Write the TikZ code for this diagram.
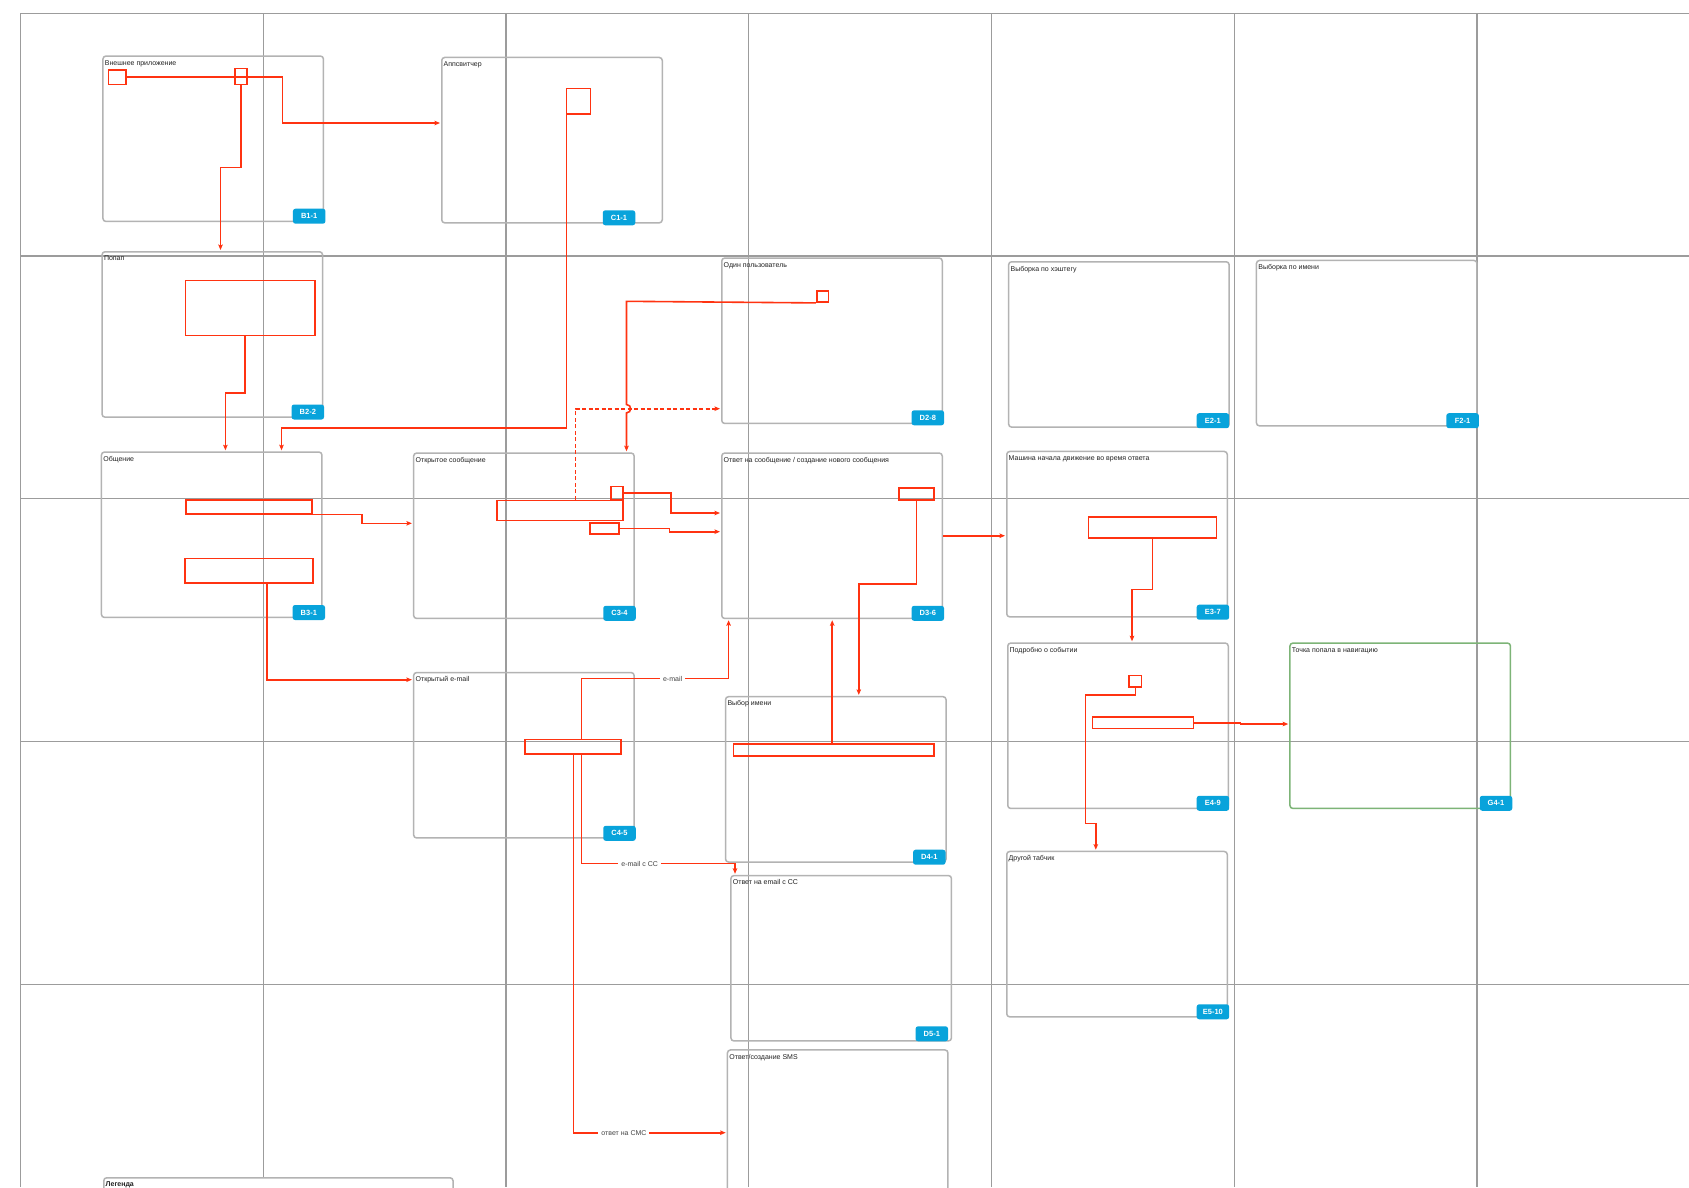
\documentclass[tikz,border=0pt]{standalone}
\usepackage{fontspec}
\setmainfont{Liberation Sans}
\usetikzlibrary{arrows.meta}
\definecolor{gridc}{HTML}{9C9C9C}
\definecolor{boxc}{HTML}{B3B3B3}
\definecolor{redc}{HTML}{FF3311}
\definecolor{badgec}{HTML}{08A3DB}
\definecolor{greenc}{HTML}{7DB477}
\definecolor{lblc}{HTML}{444444}
\definecolor{titc}{HTML}{222222}
\begin{document}
\begin{tikzpicture}[x=1pt,y=-1pt,
  gridline/.style={draw=gridc, line width=1.2pt},
  screen/.style={draw=boxc, line width=1.5pt, rounded corners=3pt, anchor=north west, inner sep=0pt, minimum width=220.5pt, minimum height=165.4pt},
  greenscreen/.style={screen, draw=greenc},
  title/.style={anchor=base west, inner sep=0pt, text=titc, font=\fontsize{7}{8}\selectfont},
  badge/.style={fill=badgec, rounded corners=2.5pt, minimum width=32.5pt, minimum height=15pt, inner sep=0pt, text=white, font=\bfseries\fontsize{7.5}{8}\selectfont},
  rr/.style 2 args={draw=redc, line width=1.6pt, anchor=north west, inner sep=0pt, minimum width=#1pt, minimum height=#2pt},
  conn/.style={draw=redc, line width=1.6pt, -{Stealth[length=5.5pt,width=4.5pt,inset=1pt]}, shorten >=1pt},
  lbl/.style={fill=white, inner xsep=3pt, inner ysep=1pt, text=lblc, font=\fontsize{7}{8}\selectfont}
]
\useasboundingbox (0,0) rectangle (1689,1187);
\clip (0,0) rectangle (1689,1187);
\fill[white] (0,0) rectangle (1689,1187);

% grid
\foreach \gx in {20.5,263.25,506,748.75,991.5,1234.25,1477}
  \draw[gridline] (\gx,13.3) -- (\gx,1187);
\foreach \gy in {13.3,256.05,498.8,741.55,984.3}
  \draw[gridline] (20.5,\gy) -- (1689,\gy);

% screens
\node[screen] (B11) at (102.2,55.3) {};
\node[title] (tB11) at ([shift={(2.5,10)}]B11.north west) {Внешнее приложение};
\node[screen] (C11) at (441,56.7) {};
\node[title] (tC11) at ([shift={(2.5,10)}]C11.north west) {Аппсвитчер};
\node[screen] (B22) at (101.3,251) {};
\node[title] (tB22) at ([shift={(2.5,9.5)}]B22.north west) {Попап};
\node[screen] (D28) at (721,257.3) {};
\node[title] (tD28) at ([shift={(2.5,10)}]D28.north west) {Один пользователь};
\node[screen] (E21) at (1007.9,261) {};
\node[title] (tE21) at ([shift={(2.5,10)}]E21.north west) {Выборка по хэштегу};
\node[screen] (F21) at (1255.7,259.7) {};
\node[title] (tF21) at ([shift={(2.5,10)}]F21.north west) {Выборка по имени};
\node[screen] (B31) at (100.7,451.3) {};
\node[title] (tB31) at ([shift={(2.5,10)}]B31.north west) {Общение};
\node[screen] (C34) at (412.9,452.3) {};
\node[title] (tC34) at ([shift={(2.5,10)}]C34.north west) {Открытое сообщение};
\node[screen] (D36) at (721,452.3) {};
\node[title] (tD36) at ([shift={(2.5,10)}]D36.north west) {Ответ на сообщение / создание нового сообщения};
\node[screen] (E37) at (1006,450.7) {};
\node[title] (tE37) at ([shift={(2.5,10)}]E37.north west) {Машина начала движение во время ответа};
\node[screen] (C45) at (412.9,671.8) {};
\node[title] (tC45) at ([shift={(2.5,10)}]C45.north west) {Открытый e-mail};
\node[screen] (D41) at (724.8,695.9) {};
\node[title] (tD41) at ([shift={(2.5,10)}]D41.north west) {Выбор имени};
\node[screen] (E49) at (1007,642.3) {};
\node[title] (tE49) at ([shift={(2.5,10)}]E49.north west) {Подробно о событии};
\node[greenscreen] (G41) at (1289.2,642.3) {};
\node[title] (tG41) at ([shift={(2.5,10)}]G41.north west) {Точка попала в навигацию};
\node[screen] (E510) at (1006,850.7) {};
\node[title] (tE510) at ([shift={(2.5,10)}]E510.north west) {Другой табчик};
\node[screen] (D51) at (730.2,874.8) {};
\node[title] (tD51) at ([shift={(2.5,10)}]D51.north west) {Ответ на email с CC};
\node[screen] (SMS) at (726.7,1049.2) {};
\node[title] (tSMS) at ([shift={(2.5,10)}]SMS.north west) {Ответ/создание SMS};
\node[screen, fill=white, minimum width=349.3pt] (LEG) at (103,1177) {};
\node[title, font=\bfseries\fontsize{7}{8}\selectfont] (tLEG) at ([shift={(2.5,9)}]LEG.north west) {Легенда};

% red elements
\node[rr={17.4}{14.7}] (r1) at (107.6,69) {};
\node[rr={12.1}{16}] (r2) at (233.9,67.7) {};
\node[rr={24.1}{25.6}] (r3) at (565.6,87.7) {};
\node[rr={129.5}{55}] (r4) at (184.8,279.7) {};
\node[rr={11.9}{11.3}] (r5) at (815.9,290) {};
\node[rr={125.9}{20}] (r6) at (496,499.7) {};
\node[rr={11.9}{13}] (r7) at (610,485.7) {};
\node[rr={29.4}{11}] (r8) at (589,522.3) {};
\node[rr={34.8}{12}] (r9) at (898.2,487) {};
\node[rr={126}{14}] (r10) at (185,499) {};
\node[rr={128}{24.3}] (r11) at (184.3,557.7) {};
\node[rr={96.1}{14.3}] (r12) at (523.9,738.7) {};
\node[rr={200.2}{12.1}] (r13) at (732.8,743.2) {};
\node[rr={127.9}{21}] (r14) at (1087.8,516.3) {};
\node[rr={12.5}{11.6}] (r15) at (1128.3,674.7) {};
\node[rr={100.9}{11.4}] (r16) at (1091.6,716.3) {};

% connectors
\coordinate (w1) at (282.6,123);
\draw[conn] (r1.east) -| (w1) -- (w1 -| C11.west);
\coordinate (w2) at (220.5,167.3);
\draw[conn] (r2.south) |- (w2) -- (w2 |- B22.north);
\coordinate (w3a) at (566.5,427.7);
\coordinate (w3b) at (281.5,427.7);
\draw[conn] (w3a |- r3.south) -- (w3a) -- (w3b) -- (w3b |- B31.north);
\coordinate (w4a) at (245,393);
\coordinate (w4b) at (225.4,393);
\draw[conn] (w4a |- r4.south) -- (w4a) -- (w4b) -- (w4b |- B31.north);
\coordinate (w5) at (626.5,301.3);
\draw[conn] (r5.south west) -- (w5) -- (626.5,404.5) .. controls (632,404.5) and (632,412.9) .. (626.5,412.9) -- (w5 |- C34.north);
\coordinate (w6) at (575.6,408.7);
\draw[conn, dash pattern=on 4pt off 2.5pt] (w6 |- r6.north) -- (w6) -- (w6 -| D28.west);
\coordinate (w7) at (671.2,513);
\draw[conn] (r7.east) -| (w7) -- (w7 -| D36.west);
\coordinate (w8) at (669.3,531.7);
\draw[conn] (r8.east) -| (w8) -- (w8 -| D36.west);
\coordinate (w10) at (361.7,523.3);
\draw[conn] (r10.south east) -| (w10) -- (w10 -| C34.west);
\coordinate (w11) at (266.7,679.7);
\draw[conn] (w11 |- r11.south) -- (w11) -- (w11 -| C45.west);
\coordinate (w9) at (858.8,584);
\draw[conn] (r9.south) |- (w9) -- (w9 |- D41.north);
\draw[conn] (D36.east) -- (D36.east -| E37.west);
\coordinate (w12a) at (581.3,678.6);
\coordinate (w12b) at (728.6,678.6);
\draw[conn] (w12a |- r12.north) -- (w12a) -- node[lbl,pos=0.62] (L1) {e-mail} (w12b) -- (w12b |- D36.south);
\coordinate (w13a) at (581.3,863.5);
\coordinate (w13b) at (735,863.5);
\draw[conn] (w13a |- r12.south) -- (w13a) -- node[lbl,pos=0.38] (L2) {e-mail с CC} (w13b) -- (w13b |- D51.north);
\coordinate (w14) at (573.3,1132.7);
\draw[conn] (w14 |- r12.south) -- (w14) -- node[lbl,pos=0.33] (L3) {ответ на СМС} (w14 -| SMS.west);
\coordinate (w15) at (832.2,700);
\draw[conn] (w15 |- r13.north) -- (w15 |- D36.south);
\coordinate (w16) at (1132,589.3);
\draw[conn] (r14.south) |- (w16) -- (w16 |- E49.north);
\coordinate (w17a) at (1085.5,694.7);
\coordinate (w17b) at (1095.8,823.3);
\draw[conn] (r15.south) |- (w17a) |- (w17b) -- (w17b |- E510.north);
\coordinate (w18) at (1240.3,724);
\draw[conn] (r16.east) -| (w18) -- (w18 -| G41.west);

% badges
\node[badge] (bB11) at (309.2,216.2) {B1-1};
\node[badge] (bC11) at (619,217.8) {C1-1};
\node[badge] (bB22) at (307.8,412) {B2-2};
\node[badge] (bD28) at (927.8,417.8) {D2-8};
\node[badge] (bE21) at (1212.9,420.7) {E2-1};
\node[badge] (bF21) at (1462.6,420.7) {F2-1};
\node[badge] (bB31) at (308.8,612.5) {B3-1};
\node[badge] (bC34) at (619.5,613.3) {C3-4};
\node[badge] (bD36) at (927.8,613.3) {D3-6};
\node[badge] (bE37) at (1212.9,612.2) {E3-7};
\node[badge] (bC45) at (619.5,833.3) {C4-5};
\node[badge] (bD41) at (929.3,857.2) {D4-1};
\node[badge] (bE49) at (1212.9,803.3) {E4-9};
\node[badge] (bG41) at (1496,803.3) {G4-1};
\node[badge] (bD51) at (931.8,1033.8) {D5-1};
\node[badge] (bE510) at (1212.9,1011.8) {E5-10};
\end{tikzpicture}
\end{document}
